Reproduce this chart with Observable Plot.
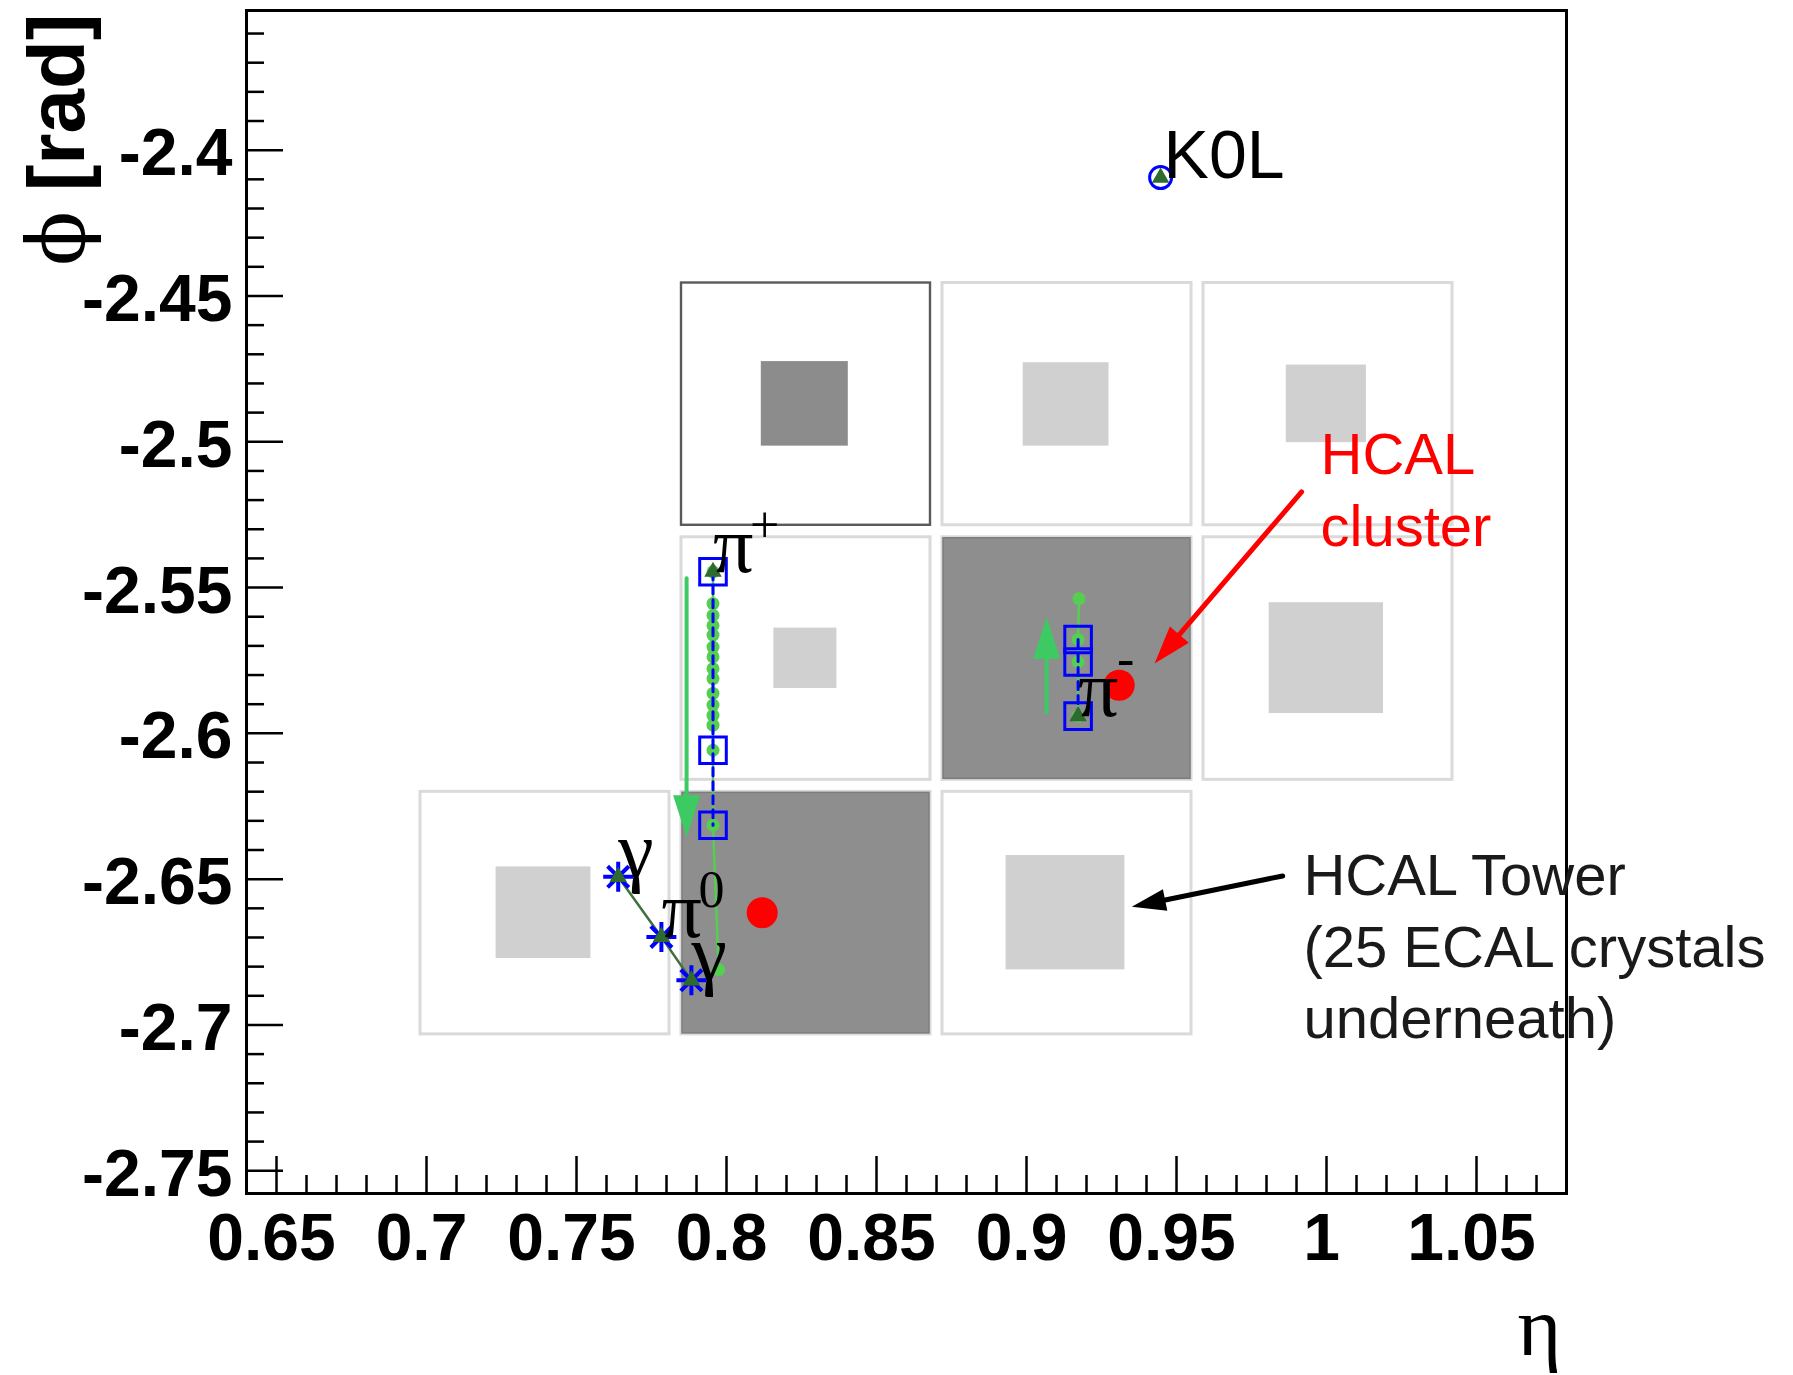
<!DOCTYPE html>
<html><head><meta charset="utf-8">
<script src="https://cdn.jsdelivr.net/npm/d3@7"></script>
<script src="https://cdn.jsdelivr.net/npm/@observablehq/plot@0.6"></script>
<style>
html,body{margin:0;padding:0;background:#fff;}
#chart svg{display:block;}
</style></head><body><div id="chart"></div>
<script>
// ---------- axes ----------
const xDomain = [0.64, 1.08];
const yDomain = [-2.7578, -2.3521];
const xMajorTicks = [0.65, 0.7, 0.75, 0.8, 0.85, 0.9, 0.95, 1.0, 1.05];
const xTickLabels = ["0.65", "0.7", "0.75", "0.8", "0.85", "0.9", "0.95", "1", "1.05"];
const xMinorTicks = [0.66, 0.67, 0.68, 0.69, 0.71, 0.72, 0.73, 0.74, 0.76, 0.77, 0.78, 0.79,
  0.81, 0.82, 0.83, 0.84, 0.86, 0.87, 0.88, 0.89, 0.91, 0.92, 0.93, 0.94, 0.96, 0.97, 0.98, 0.99,
  1.01, 1.02, 1.03, 1.04, 1.06, 1.07];
const yMajorTicks = [-2.75, -2.7, -2.65, -2.6, -2.55, -2.5, -2.45, -2.4];
const yTickLabels = ["-2.75", "-2.7", "-2.65", "-2.6", "-2.55", "-2.5", "-2.45", "-2.4"];
const yMinorTicks = [-2.74, -2.73, -2.72, -2.71, -2.69, -2.68, -2.67, -2.66, -2.64, -2.63, -2.62, -2.61,
  -2.59, -2.58, -2.57, -2.56, -2.54, -2.53, -2.52, -2.51, -2.49, -2.48, -2.47, -2.46, -2.44, -2.43,
  -2.42, -2.41, -2.39, -2.38, -2.37, -2.36];
const xTitle = "η";
const yTitleSymbol = "ϕ";
const yTitleUnit = "[rad]";

// ---------- HCAL towers ----------
const towerEtaMin = [0.783, 0.870, 0.957, 0.783, 0.870, 0.957, 0.696, 0.783, 0.870];
const towerEtaMax = [0.870, 0.957, 1.044, 0.870, 0.957, 1.044, 0.783, 0.870, 0.957];
const towerPhiMax = [-2.4435, -2.4435, -2.4435, -2.5307, -2.5307, -2.5307, -2.6180, -2.6180, -2.6180];
const towerPhiMin = [-2.5307, -2.5307, -2.5307, -2.6180, -2.6180, -2.6180, -2.7053, -2.7053, -2.7053];
const towerState = ["hit", "empty", "empty", "empty", "cluster", "empty", "empty", "cluster", "empty"];

// ---------- ECAL deposits inside towers ----------
const ecalEtaMin = [0.8116, 0.8989, 0.9866, 0.8158, 0.9809, 0.7232, 0.8932];
const ecalEtaMax = [0.8406, 0.9275, 1.0133, 0.8368, 1.0190, 0.7548, 0.9328];
const ecalPhiMax = [-2.4725, -2.4729, -2.4737, -2.5639, -2.5552, -2.6458, -2.6419];
const ecalPhiMin = [-2.5015, -2.5015, -2.5003, -2.5846, -2.5932, -2.6772, -2.6811];
const ecalState = ["high", "low", "low", "low", "low", "low", "low"];

// ---------- pi+ track ----------
const piPlusPathEta = [0.7955, 0.7955, 0.7955, 0.7955, 0.7955, 0.7955, 0.7955, 0.7955, 0.7955,
  0.7955, 0.7955, 0.7955, 0.7955, 0.7955, 0.7955, 0.7974];
const piPlusPathPhi = [-2.5446, -2.5555, -2.5595, -2.5630, -2.5663, -2.5704, -2.5738, -2.5778,
  -2.5812, -2.5863, -2.5903, -2.5938, -2.5972, -2.6058, -2.6315, -2.6810];
const piPlusHitEta = [0.7955, 0.7955, 0.7955];
const piPlusHitPhi = [-2.5446, -2.6058, -2.6315];

// ---------- pi- track ----------
const piMinusPathEta = [0.9172, 0.9172, 0.9172, 0.9175];
const piMinusPathPhi = [-2.5941, -2.5755, -2.5678, -2.5538];
const piMinusHitEta = [0.9172, 0.9172, 0.9172];
const piMinusHitPhi = [-2.5678, -2.5755, -2.5941];

// ---------- pi0 -> gamma gamma ----------
const pi0Eta = [0.7639, 0.7783, 0.7883];
const pi0Phi = [-2.6492, -2.6698, -2.6847];

// ---------- particles (origin marker + label) ----------
const particleName = ["π", "π", "γ", "π", "γ", "K0L"];
const particleCharge = ["+", "-", "", "0", "", ""];
const particleEta = [0.7955, 0.9172, 0.7639, 0.7783, 0.7883, 0.9447];
const particlePhi = [-2.5446, -2.5941, -2.6492, -2.6698, -2.6847, -2.4094];

// ---------- HCAL clusters ----------
const clusterEta = [0.9309, 0.8119];
const clusterPhi = [-2.5835, -2.6615];

// ---------- arrows ----------
const arrowKind = ["track", "track", "cluster", "tower"];
const arrowTailEta = [0.7867, 0.9067, 0.9917, 0.9854];
const arrowTailPhi = [-2.5468, -2.5928, -2.5172, -2.6489];
const arrowTipEta = [0.7867, 0.9067, 0.9427, 0.9351];
const arrowTipPhi = [-2.6356, -2.5601, -2.5760, -2.6595];

// ---------- annotations ----------
const noteText = ["HCAL\ncluster", "HCAL Tower\n(25 ECAL crystals\nunderneath)"];
const noteKind = ["cluster", "tower"];
const noteEta = [0.998, 0.9923];
const notePhi = [-2.4935, -2.6378];

// =====================================================================
const W = 1793, H = 1375;
const M = {top: 10, right: 227, bottom: 182, left: 246};
const sx = d3.scaleLinear(xDomain, [M.left, W - M.right]);
const sy = d3.scaleLinear(yDomain, [H - M.bottom, M.top]);
const plotH = H - M.top - M.bottom, plotW = W - M.left - M.right;

const SANS = "'Liberation Sans', Arial, Helvetica, sans-serif";
const SERIF = "'Liberation Serif', 'Times New Roman', 'DejaVu Serif', serif";
const GREEN = "#3dca62", DOTGREEN = "#55cf4f", DKGREEN = "#2f6a2f", BLUE = "#0000ff";

const idx = a => a.map((_, i) => i);
const towers = idx(towerEtaMin).map(i => ({x1: towerEtaMin[i], x2: towerEtaMax[i], y1: towerPhiMin[i], y2: towerPhiMax[i], s: towerState[i]}));
const ecal = idx(ecalEtaMin).map(i => ({x1: ecalEtaMin[i], x2: ecalEtaMax[i], y1: ecalPhiMin[i], y2: ecalPhiMax[i], s: ecalState[i]}));
const pts = (xs, ys) => xs.map((x, i) => ({x, y: ys[i]}));
const piPlusPath = pts(piPlusPathEta, piPlusPathPhi);
const piPlusHits = pts(piPlusHitEta, piPlusHitPhi);
const piMinusPath = pts(piMinusPathEta, piMinusPathPhi);
const piMinusHits = pts(piMinusHitEta, piMinusHitPhi);
const pi0 = pts(pi0Eta, pi0Phi);
const particles = idx(particleName).map(i => ({x: particleEta[i], y: particlePhi[i], name: particleName[i], q: particleCharge[i]}));
const greek = particles.filter(d => d.name !== "K0L");
const k0l = particles.filter(d => d.name === "K0L");
const clusters = pts(clusterEta, clusterPhi);
const arrows = idx(arrowKind).map(i => ({kind: arrowKind[i], x1: arrowTailEta[i], y1: arrowTailPhi[i], x2: arrowTipEta[i], y2: arrowTipPhi[i]}));
const notes = idx(noteText).map(i => ({text: noteText[i], kind: noteKind[i], x: noteEta[i], y: notePhi[i]}));

const arrowStyle = {
  track: {color: GREEN, width: 4, len: 42, wid: 27},
  cluster: {color: "#ff0000", width: 5, len: 38, wid: 25},
  tower: {color: "#000000", width: 5, len: 34, wid: 22}
};

function headSymbol(a, len, wid) {
  const dx = sx(a.x2) - sx(a.x1), dy = sy(a.y2) - sy(a.y1);
  const n = Math.hypot(dx, dy), ux = dx / n, uy = dy / n, px = -uy, py = ux;
  return {draw(ctx) {
    ctx.moveTo(0, 0);
    ctx.lineTo(-ux * len + px * wid / 2, -uy * len + py * wid / 2);
    ctx.lineTo(-ux * len - px * wid / 2, -uy * len - py * wid / 2);
    ctx.closePath();
  }};
}
const star8 = {draw(ctx, size) {
  const r = Math.sqrt(size / Math.PI), q = r * Math.SQRT1_2;
  ctx.moveTo(-r, 0); ctx.lineTo(r, 0);
  ctx.moveTo(0, -r); ctx.lineTo(0, r);
  ctx.moveTo(-q, -q); ctx.lineTo(q, q);
  ctx.moveTo(-q, q); ctx.lineTo(q, -q);
}};

const arrowMarks = arrows.flatMap(a => {
  const st = arrowStyle[a.kind];
  return [
    Plot.arrow([a], {x1: "x1", y1: "y1", x2: "x2", y2: "y2", stroke: st.color, strokeWidth: st.width, headLength: 0, insetEnd: st.len * 0.6}),
    Plot.dot([a], {x: "x2", y: "y2", symbol: headSymbol(a, st.len, st.wid), fill: st.color, stroke: "none"})
  ];
});

const chart = Plot.plot({
  width: W, height: H,
  marginTop: M.top, marginRight: M.right, marginBottom: M.bottom, marginLeft: M.left,
  x: {domain: xDomain},
  y: {domain: yDomain},
  style: {fontFamily: SANS, background: "#fff", color: "#000", overflow: "visible"},
  marks: [
    // towers
    Plot.rect(towers, {x1: "x1", x2: "x2", y1: "y1", y2: "y2", inset: 6, fill: "#fff",
      stroke: d => d.s === "hit" ? "#5a5a5a" : "#dadada", strokeWidth: d => d.s === "hit" ? 2.4 : 3}),
    Plot.rect(towers.filter(d => d.s === "cluster"), {x1: "x1", x2: "x2", y1: "y1", y2: "y2", inset: 7,
      fill: "#8e8e8e", stroke: "#7c7c7c", strokeWidth: 1.5}),
    Plot.rect(ecal, {x1: "x1", x2: "x2", y1: "y1", y2: "y2", fill: d => d.s === "high" ? "#8c8c8c" : "#d0d0d0"}),

    // ticks (ROOT style, inside the frame)
    Plot.tickX(xMinorTicks, {x: d => d, insetTop: plotH - 18, stroke: "#000", strokeWidth: 2.5}),
    Plot.tickX(xMajorTicks, {x: d => d, insetTop: plotH - 37, stroke: "#000", strokeWidth: 2.5}),
    Plot.tickY(yMinorTicks, {y: d => d, insetRight: plotW - 18, stroke: "#000", strokeWidth: 2.5}),
    Plot.tickY(yMajorTicks, {y: d => d, insetRight: plotW - 37, stroke: "#000", strokeWidth: 2.5}),
    Plot.axisX(xMajorTicks, {tickFormat: d => xTickLabels[xMajorTicks.indexOf(d)], tickSize: 0, tickPadding: 20,
      fontSize: 66, fontWeight: "bold", label: null, dx: -5, fill: "#000"}),
    Plot.axisY(yMajorTicks, {tickFormat: d => yTickLabels[yMajorTicks.indexOf(d)], tickSize: 0, tickPadding: 14,
      fontSize: 66, fontWeight: "bold", label: null, dy: 4, fill: "#000"}),
    Plot.frame({stroke: "#000", strokeWidth: 3}),

    // axis titles
    Plot.text([xTitle], {frameAnchor: "bottom-right", textAnchor: "end", lineAnchor: "bottom", dx: -5, dy: 161,
      fontSize: 84, fontFamily: SERIF, fill: "#000"}),
    Plot.text([yTitleUnit], {frameAnchor: "top-left", rotate: -90, textAnchor: "end", lineAnchor: "bottom",
      dx: -163, dy: 3, fontSize: 80, fontWeight: "bold", fill: "#000"}),
    Plot.text([yTitleSymbol], {frameAnchor: "top-left", rotate: -90, textAnchor: "middle", lineAnchor: "bottom",
      dx: -163, dy: 228, fontSize: 80, fontFamily: "'DejaVu Serif', serif", fill: "#000"}),

    // pi+ track
    Plot.line(piPlusPath, {x: "x", y: "y", stroke: DOTGREEN, strokeWidth: 2.5}),
    Plot.dot(piPlusPath, {x: "x", y: "y", r: 6.5, fill: DOTGREEN}),
    Plot.line(piPlusHits, {x: "x", y: "y", stroke: BLUE, strokeWidth: 3, strokeDasharray: "8,6"}),
    Plot.dot(piPlusHits, {x: "x", y: "y", symbol: "square", r: 15, stroke: BLUE, strokeWidth: 3, fill: "none"}),
    // pi- track
    Plot.line(piMinusPath, {x: "x", y: "y", stroke: DOTGREEN, strokeWidth: 2.5}),
    Plot.dot(piMinusPath, {x: "x", y: "y", r: 6.5, fill: DOTGREEN}),
    Plot.line(piMinusHits, {x: "x", y: "y", stroke: BLUE, strokeWidth: 3, strokeDasharray: "8,6"}),
    Plot.dot(piMinusHits, {x: "x", y: "y", symbol: "square", r: 15, stroke: BLUE, strokeWidth: 3, fill: "none"}),
    // pi0
    Plot.line(pi0, {x: "x", y: "y", stroke: "#3f713f", strokeWidth: 2.5}),
    Plot.dot(pi0, {x: "x", y: "y", symbol: star8, r: 15, stroke: BLUE, strokeWidth: 4, fill: "none"}),
    // K0L
    Plot.dot(k0l, {x: "x", y: "y", symbol: "circle", r: 11, stroke: BLUE, strokeWidth: 3, fill: "none"}),
    // origin markers
    Plot.dot(particles, {x: "x", y: "y", symbol: "triangle", r: 6.5, fill: DKGREEN, stroke: "none"}),
    // clusters
    Plot.dot(clusters, {x: "x", y: "y", r: 15.5, fill: "#ff0000", stroke: "none"}),

    // arrows
    ...arrowMarks,

    // particle labels
    Plot.text(greek, {x: "x", y: "y", text: "name", textAnchor: "start", lineAnchor: "bottom",
      fontSize: 80, fontFamily: SERIF, fill: "#000"}),
    Plot.text(greek.filter(d => d.q === "+" || d.q === "0"), {x: "x", y: "y", text: "q", textAnchor: "start", lineAnchor: "bottom",
      dx: 37, dy: -30, fontSize: 52, fontFamily: SERIF, fill: "#000"}),
    Plot.text(greek.filter(d => d.q === "-"), {x: "x", y: "y", text: "q", textAnchor: "start", lineAnchor: "bottom",
      dx: 39, dy: -40, fontSize: 52, fontFamily: SERIF, fill: "#000"}),
    Plot.text(k0l, {x: "x", y: "y", text: "name", textAnchor: "start", lineAnchor: "bottom", dx: 3,
      fontSize: 68, fontFamily: SANS, fill: "#000"}),

    // annotations
    Plot.text(notes, {x: "x", y: "y", text: "text", textAnchor: "start", lineAnchor: "top",
      fontSize: 58, lineHeight: 1.24, fontFamily: SANS,
      fill: d => d.kind === "cluster" ? "#ff0000" : "#1a1a1a"})
  ]
});
document.getElementById("chart").append(chart);
</script></body></html>
